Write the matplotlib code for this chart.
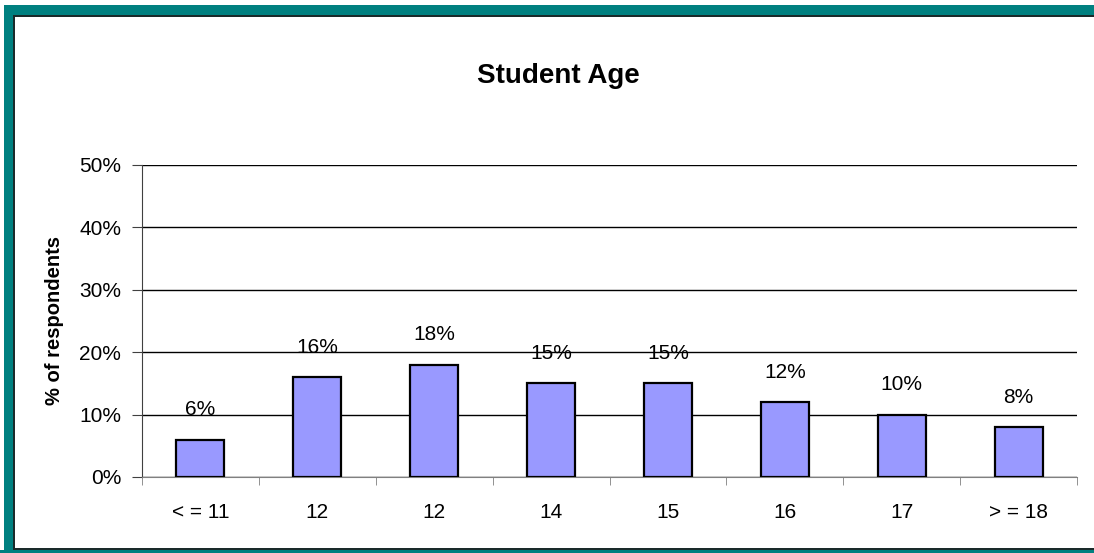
import numpy as np
import matplotlib
matplotlib.use('Agg')
import matplotlib.pyplot as plt
from matplotlib.patches import Rectangle

# data
ages = ['< = 11', '12', '12', '14', '15', '16', '17', '> = 18']
pct = [6, 16, 18, 15, 15, 12, 10, 8]

plt.rcParams['font.family'] = ['Liberation Sans', 'DejaVu Sans']

fig = plt.figure(figsize=(10.94, 5.53), dpi=100)
fig.patch.set_facecolor('white')
ax = fig.add_axes([142/1094, 1-477/553, (1077-142)/1094, (477-165)/553])

x = np.arange(len(ages))
ax.bar(x, pct, width=0.41, color='#9999FF', edgecolor='black', linewidth=1.6, zorder=3)
for xi, v in zip(x, pct):
    ax.text(xi, v + 4.8, '%d%%' % v, ha='center', va='center', fontsize=15)

ax.set_xlim(-0.5, len(ages) - 0.5)
ax.set_ylim(0, 50)
ax.set_yticks(np.arange(0, 51, 10))
ax.set_yticklabels(['%d%%' % t for t in range(0, 51, 10)], fontsize=15)
ax.yaxis.grid(True, color='black', linewidth=1)
ax.set_axisbelow(True)

# category labels centred, ticks on the boundaries
ax.set_xticks(x)
ax.set_xticklabels(ages, fontsize=15)
ax.tick_params(axis='x', which='major', length=0, pad=19)
ax.set_xticks(np.arange(-0.5, len(ages)), minor=True)
ax.tick_params(axis='x', which='minor', length=6, color='#808080', direction='out')
ax.tick_params(axis='y', length=7, color='#404040', pad=8)

for s in ['top', 'right']:
    ax.spines[s].set_visible(False)
ax.spines['bottom'].set_color('#808080')
ax.spines['left'].set_color('#404040')

ax.set_ylabel('% of respondents', fontsize=14.5, fontweight='bold')
ax.yaxis.set_label_coords((64-142)/935, 0.5)
fig.text(558/1094, 1-76/553, 'Student Age', ha='center', va='center',
         fontsize=20, fontweight='bold')

# teal frame round the chart
teal = '#008080'
dark = '#1a2a2a'
for r in [(4, 0, 9, 548), (4, 538, 1090, 10), (0, 0, 1094, 3)]:
    fig.add_artist(Rectangle(r[:2], r[2], r[3], transform=None, color=teal, lw=0))
for r in [(13, 3, 2, 535), (13, 536.5, 1081, 1.5), (13, 3, 1081, 2)]:
    fig.add_artist(Rectangle(r[:2], r[2], r[3], transform=None, color=dark, lw=0))

plt.savefig('out.png', dpi=100)
